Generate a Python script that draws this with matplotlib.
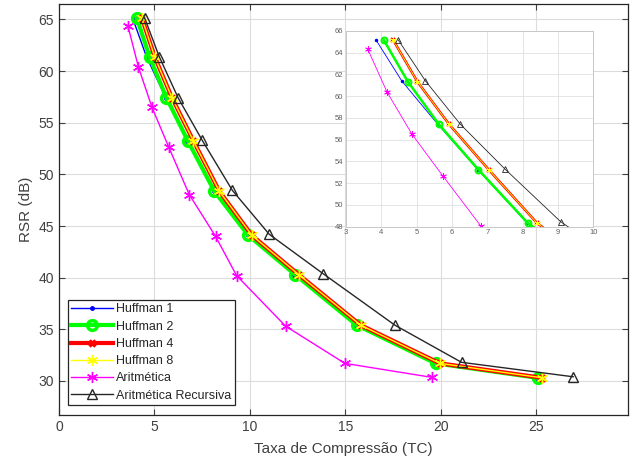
import matplotlib
matplotlib.use("Agg")
import matplotlib.pyplot as plt

plt.rcParams['font.family'] = ['Liberation Sans', 'DejaVu Sans']

# Data (Taxa de Compressão vs RSR)
h1_x = [3.85, 4.58, 5.60, 6.73, 8.12, 9.88, 12.33, 15.56, 19.70, 25.03]
h1_y = [65.17, 61.40, 57.41, 53.24, 48.36, 44.1, 40.3, 35.4, 31.7, 30.3]
h2_x = [4.075, 4.75, 5.63, 6.75, 8.14, 9.91, 12.36, 15.59, 19.72, 25.06]
h2_y = [65.14, 61.34, 57.41, 53.24, 48.36, 44.1, 40.3, 35.4, 31.7, 30.3]
h4_x = [4.34, 5.02, 5.92, 7.04, 8.40, 10.10, 12.55, 15.80, 19.95, 25.30]
h4_y = [65.14, 61.34, 57.41, 53.24, 48.36, 44.1, 40.3, 35.4, 31.7, 30.3]
h8_x = [4.34, 5.02, 5.92, 7.04, 8.40, 10.10, 12.55, 15.80, 19.95, 25.30]
h8_y = [65.14, 61.34, 57.41, 53.24, 48.36, 44.1, 40.3, 35.4, 31.7, 30.3]
ar_x = [3.61, 4.16, 4.87, 5.75, 6.82, 8.20, 9.30, 11.87, 14.97, 19.51]
ar_y = [64.37, 60.39, 56.49, 52.63, 48.05, 44.0, 40.2, 35.3, 31.7, 30.35]
arr_x = [4.48, 5.25, 6.24, 7.50, 9.08, 11.01, 13.82, 17.59, 21.08, 26.93]
arr_y = [65.17, 61.40, 57.41, 53.30, 48.45, 44.2, 40.4, 35.4, 31.8, 30.4]

labels = ['Huffman 1', 'Huffman 2', 'Huffman 4', 'Huffman 8', 'Aritmética', 'Aritmética Recursiva']

fig = plt.figure(figsize=(6.35, 4.63), dpi=100)
ax = fig.add_axes([0.0929, 0.1037, 0.8961, 0.8877])

txt = '#404040'
AST = (6, 2, 0)  # asterisk marker

def draw(a, scale=1.0):
    a.plot(h1_x, h1_y, color='#0000ff', lw=1.0*scale, marker='.', ms=5*scale, label=labels[0])
    a.plot(h2_x, h2_y, color='#00ff00', lw=3.0*scale, marker='o', ms=7*scale, mfc='none', mew=2.5*scale, label=labels[1])
    a.plot(h4_x, h4_y, color='#ff0000', lw=3.0*scale, marker='x', ms=5*scale, mew=2.5*scale, label=labels[2])
    a.plot(h8_x, h8_y, color='#ffff00', lw=1.0*scale, marker=AST, ms=8*scale, mew=1.0*scale, label=labels[3])
    a.plot(ar_x, ar_y, color='#ff00ff', lw=1.0*scale, marker=AST, ms=8*scale, mew=1.0*scale, label=labels[4])
    a.plot(arr_x, arr_y, color='#262626', lw=1.0*scale, marker='^', ms=7*scale, mfc='none', mew=1.0*scale, label=labels[5])

draw(ax)
ax.set_xlim(0, 29.8)
ax.set_ylim(26.7, 66.5)
ax.set_xticks([0, 5, 10, 15, 20, 25])
ax.set_yticks([30, 35, 40, 45, 50, 55, 60, 65])
ax.grid(True, color='#dcdcdc', lw=0.8)
ax.set_axisbelow(True)
ax.tick_params(direction='in', top=True, right=True, labelsize=10, colors=txt, length=4)
for s in ax.spines.values():
    s.set_color('#262626')
    s.set_linewidth(0.9)
ax.set_xlabel('Taxa de Compressão (TC)', fontsize=11, color=txt, labelpad=6)
ax.set_ylabel('RSR (dB)', fontsize=11, color=txt, labelpad=4)

leg = ax.legend(loc='lower left', fontsize=9, frameon=True, fancybox=False,
                edgecolor='#262626', framealpha=1, borderpad=0.3, labelspacing=0.42,
                handlelength=3.3, handletextpad=0.3, bbox_to_anchor=(0.004, 0.008))
leg.get_frame().set_linewidth(0.9)
for t in leg.get_texts():
    t.set_color('#262626')

ins = fig.add_axes([0.5449, 0.5104, 0.3894, 0.4227])
draw(ins, scale=0.6)
ins.set_xlim(3, 10)
ins.set_ylim(48, 66)
ins.set_xticks(range(3, 11))
ins.set_yticks(range(48, 67, 2))
ins.grid(True, color='#e0e0e0', lw=0.6)
ins.set_axisbelow(True)
ins.tick_params(direction='in', labelsize=5.5, colors='#606060', length=0, pad=2)
for s in ins.spines.values():
    s.set_color('#c8c8c8')
    s.set_linewidth(0.7)

fig.savefig('out.png', dpi=100)
